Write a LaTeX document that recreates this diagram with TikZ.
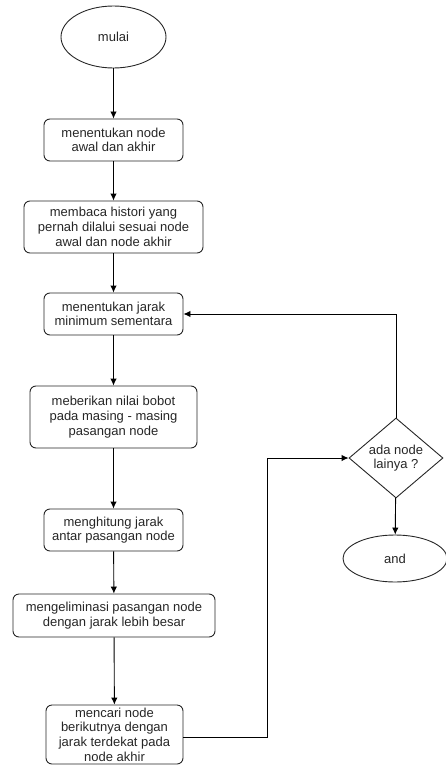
\documentclass[tikz,border=0pt]{standalone}
\usepackage{fontspec}
\setmainfont{Liberation Sans}
\usetikzlibrary{shapes.geometric,arrows.meta}
\begin{document}
\begin{tikzpicture}[x=1pt,y=-1pt,
  every node/.style={font=\fontsize{13}{14.7}\selectfont, text=black!85, align=center, inner sep=0pt, line width=0.9pt, draw=black!85},
  proc/.style={rectangle, rounded corners=6pt},
  term/.style={ellipse},
  dec/.style={diamond},
  flow/.style={line width=0.9pt, draw=black, -{Latex[length=7pt,width=6.5pt]}}]
\useasboundingbox (0,0) rectangle (446,765);
\node[term, minimum width=105pt, minimum height=62pt] (start) at (113.5,37) {mulai};
\node[proc, minimum width=139pt, minimum height=42pt] (b1) at (113.5,140) {menentukan node\\awal dan akhir};
\node[proc, minimum width=179pt, minimum height=52pt] (b2) at (113.5,227) {membaca histori yang\\pernah dilalui sesuai node\\awal dan node akhir};
\node[proc, minimum width=139pt, minimum height=42pt] (b3) at (113.5,314) {menentukan jarak\\minimum sementara};
\node[proc, minimum width=167pt, minimum height=62pt] (b4) at (113.5,417) {meberikan nilai bobot\\pada masing - masing\\pasangan node};
\node[proc, minimum width=139pt, minimum height=42pt] (b5) at (113.5,530) {menghitung jarak\\antar pasangan node};
\node[proc, minimum width=202pt, minimum height=43pt] (b6) at (114,615.5) {mengeliminasi pasangan node\\dengan jarak lebih besar};
\node[proc, minimum width=137pt, minimum height=59pt] (b7) at (114.5,734.5) {mencari node\\berikutnya dengan\\jarak terdekat pada\\node akhir};
\node[dec, minimum width=94pt, minimum height=80pt, aspect=1.175] (d) at (396,458) {ada node\\lainya ?};
\node[term, minimum width=104pt, minimum height=47pt] (end) at (395,558.5) {and};
\coordinate (c1) at (267,737);
\coordinate (c2) at (267,458);
\coordinate (c3) at (396,314);
\draw[flow] (start) -- (b1);
\draw[flow] (b1) -- (b2);
\draw[flow] (b2) -- (b3);
\draw[flow] (b3) -- (b4);
\draw[flow] (b4) -- (b5);
\draw[flow] (b5) -- (b6);
\draw[flow] (b6) -- (b7);
\draw[flow] (b7.east |- c1) -- (c1) -- (c2) -- (d.west);
\draw[flow] (d.north) -- (c3) -- (b3.east |- c3);
\draw[flow] (d) -- (end);
\end{tikzpicture}
\end{document}
